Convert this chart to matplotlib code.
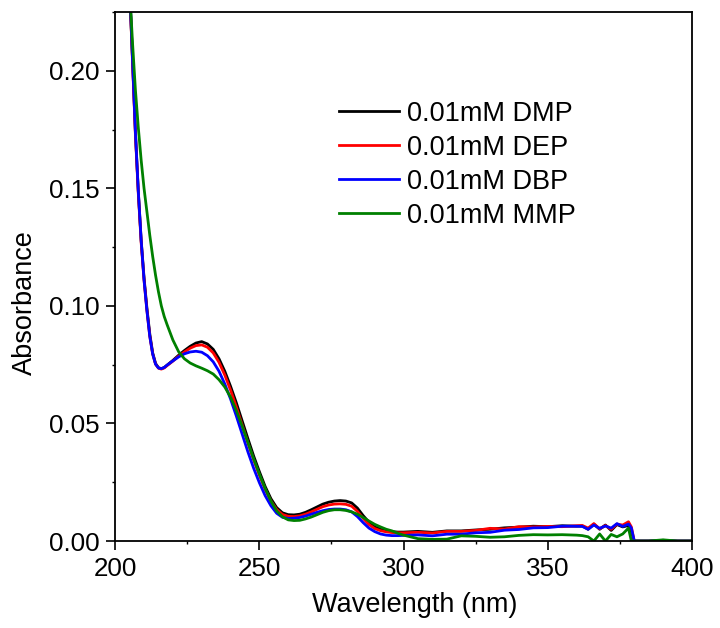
import matplotlib
matplotlib.use('Agg')
import matplotlib.pyplot as plt
from matplotlib.ticker import MultipleLocator

plt.rcParams['font.family'] = ['Liberation Sans', 'DejaVu Sans']

wavelength = [204, 205, 206, 207, 208, 209, 210, 211, 212, 213, 214, 215, 216, 217, 218,
              220, 222, 224, 226, 228, 230, 232, 234, 236, 238, 240, 242, 244, 246, 248,
              250, 252, 254, 256, 258, 260, 262, 264, 266, 268, 270, 272, 274, 276, 278,
              280, 282, 284, 286, 288, 290, 292, 294, 296, 298, 300, 305, 310, 315, 320,
              325, 330, 335, 340, 345, 350, 355, 360, 362, 364, 366, 368, 370, 372, 374,
              376, 378, 379, 380, 382, 385, 390, 395, 400]

dmp = [0.27, 0.235, 0.205, 0.174, 0.149, 0.128, 0.112, 0.099, 0.088, 0.080, 0.0755, 0.0737, 0.0733, 0.0738, 0.0748,
       0.0768, 0.0790, 0.0810, 0.0828, 0.0842, 0.0848, 0.0838, 0.0815, 0.0775, 0.0722, 0.0658, 0.0588, 0.0512, 0.0436, 0.0362,
       0.0295, 0.0232, 0.0180, 0.0142, 0.0120, 0.0112, 0.0111, 0.0114, 0.0122, 0.0133, 0.0145, 0.0157, 0.0165, 0.0170, 0.0172,
       0.0170, 0.0162, 0.0140, 0.0108, 0.0080, 0.0060, 0.0050, 0.0043, 0.0040, 0.0038, 0.0038, 0.0041, 0.0037, 0.0043, 0.0043,
       0.0047, 0.0050, 0.0056, 0.0059, 0.0063, 0.0061, 0.0065, 0.0063, 0.0064, 0.0050, 0.0072, 0.0050, 0.0068, 0.0045, 0.0070,
       0.0060, 0.0066, 0.0040, 0.0, 0.0, 0.0, 0.0003, 0.0, 0.0]

dep = [0.27, 0.235, 0.204, 0.173, 0.148, 0.127, 0.111, 0.098, 0.087, 0.0795, 0.0752, 0.0735, 0.0731, 0.0736, 0.0746,
       0.0765, 0.0786, 0.0804, 0.0820, 0.0831, 0.0834, 0.0824, 0.0800, 0.0760, 0.0706, 0.0642, 0.0570, 0.0494, 0.0418, 0.0345,
       0.0280, 0.0220, 0.0170, 0.0134, 0.0113, 0.0105, 0.0104, 0.0107, 0.0114, 0.0124, 0.0135, 0.0146, 0.0153, 0.0157, 0.0158,
       0.0156, 0.0148, 0.0126, 0.0096, 0.0070, 0.0053, 0.0044, 0.0039, 0.0036, 0.0035, 0.0035, 0.0037, 0.0034, 0.0041, 0.0041,
       0.0045, 0.0054, 0.0051, 0.0061, 0.0060, 0.0062, 0.0061, 0.0065, 0.0066, 0.0055, 0.0074, 0.0052, 0.0066, 0.0050, 0.0072,
       0.0068, 0.0082, 0.0060, 0.0, 0.0, 0.0, 0.0002, 0.0, 0.0]

dbp = [0.27, 0.236, 0.205, 0.174, 0.149, 0.128, 0.111, 0.098, 0.087, 0.0795, 0.0752, 0.0736, 0.0733, 0.0738, 0.0748,
       0.0766, 0.0783, 0.0796, 0.0804, 0.0807, 0.0803, 0.0788, 0.0762, 0.0722, 0.0668, 0.0604, 0.0532, 0.0456, 0.0380, 0.0310,
       0.0248, 0.0193, 0.0150, 0.0118, 0.0101, 0.0096, 0.0097, 0.0100, 0.0106, 0.0114, 0.0122, 0.0129, 0.0134, 0.0136, 0.0136,
       0.0133, 0.0124, 0.0104, 0.0078, 0.0055, 0.0040, 0.0030, 0.0025, 0.0023, 0.0023, 0.0024, 0.0026, 0.0022, 0.0029, 0.0029,
       0.0035, 0.0037, 0.0046, 0.0049, 0.0056, 0.0057, 0.0063, 0.0063, 0.0062, 0.0050, 0.0068, 0.0054, 0.0064, 0.0055, 0.0074,
       0.0062, 0.0072, 0.0055, 0.0, 0.0, 0.0, 0.0002, 0.0, 0.0]

mmp = [0.265, 0.235, 0.212, 0.192, 0.176, 0.162, 0.150, 0.140, 0.130, 0.121, 0.113, 0.106, 0.100, 0.0955, 0.0920,
       0.0855, 0.0805, 0.0775, 0.0757, 0.0745, 0.0735, 0.0724, 0.0710, 0.0686, 0.0655, 0.0612, 0.0555, 0.0490, 0.0420, 0.0350,
       0.0285, 0.0224, 0.0170, 0.0128, 0.0103, 0.0090, 0.0087, 0.0088, 0.0094, 0.0102, 0.0112, 0.0122, 0.0129, 0.0133, 0.0133,
       0.0130, 0.0124, 0.0114, 0.0100, 0.0085, 0.0071, 0.0060, 0.0050, 0.0043, 0.0033, 0.0025, 0.0010, 0.0007, 0.0008, 0.0022,
       0.0020, 0.0016, 0.0018, 0.0024, 0.0027, 0.0026, 0.0027, 0.0025, 0.0023, 0.0018, 0.0, 0.0030, 0.0, 0.0028, 0.0018,
       0.0030, 0.0055, 0.0, 0.0, 0.0, 0.0, 0.0005, 0.0, 0.0]

labels = ['0.01mM DMP', '0.01mM DEP', '0.01mM DBP', '0.01mM MMP']
colors = ['black', 'red', 'blue', 'green']

fig = plt.figure(figsize=(7.2, 6.28), dpi=100)
ax = fig.add_axes([0.160, 0.1385, 0.801, 0.8425])

for series, label, color in zip([dmp, dep, dbp, mmp], labels, colors):
    ax.plot(wavelength, series, color=color, lw=2, label=label)

ax.set_xlim(200, 400)
ax.set_ylim(0, 0.225)
ax.xaxis.set_major_locator(MultipleLocator(50))
ax.xaxis.set_minor_locator(MultipleLocator(25))
ax.yaxis.set_major_locator(MultipleLocator(0.05))
ax.yaxis.set_minor_locator(MultipleLocator(0.025))
ax.yaxis.set_major_formatter(plt.FormatStrFormatter('%.2f'))
ax.tick_params(which='major', direction='out', length=6.5, width=1.2, labelsize=18.7, pad=5)
ax.tick_params(which='minor', direction='out', length=2.5, width=1.0)
for spine in ax.spines.values():
    spine.set_linewidth(1.3)

ax.set_xlabel('Wavelength (nm)', fontsize=19.5, labelpad=8)
ax.set_ylabel('Absorbance', fontsize=19.5, labelpad=8)
# the original labels sit a little off the axis centres
ax.xaxis.label.set_x(0.52)
ax.yaxis.label.set_y(0.45)

ax.legend(loc='upper left', bbox_to_anchor=(0.37, 0.853), frameon=False, fontsize=19.5,
          handlelength=2.2, handletextpad=0.3, labelspacing=0.3, borderaxespad=0)

fig.savefig('out.png', dpi=100)
